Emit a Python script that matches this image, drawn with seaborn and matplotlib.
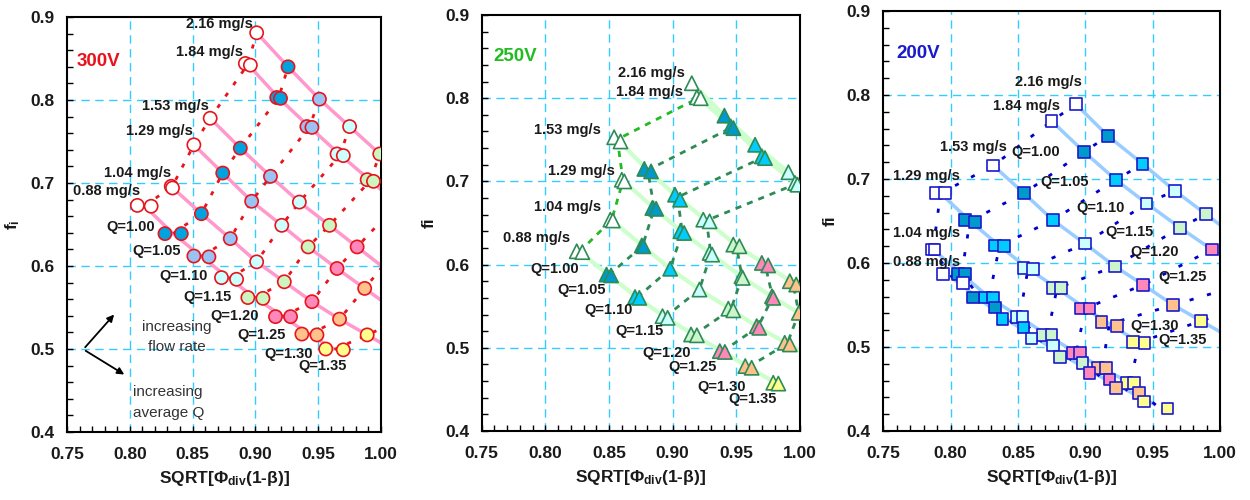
import matplotlib
matplotlib.use('Agg')
import matplotlib.pyplot as plt
import pandas as pd
import seaborn as sns

# ---------------- data ----------------
FLOWS = [0.88, 1.04, 1.29, 1.53, 1.84, 2.16]
Q_LEVELS = ['open', '1.00', '1.05', '1.10', '1.15', '1.20', '1.25', '1.30']
Q_LABELS = ['Q=1.00', 'Q=1.05', 'Q=1.10', 'Q=1.15', 'Q=1.20', 'Q=1.25', 'Q=1.30', 'Q=1.35']

# 300 V panel (circles)
v300_flow = [2.16, 2.16, 2.16, 2.16, 2.16,
             1.84, 1.84, 1.84, 1.84, 1.84, 1.84, 1.84, 1.84, 1.84, 1.84,
             1.53, 1.53, 1.53, 1.53, 1.53, 1.53,
             1.29, 1.29, 1.29, 1.29, 1.29, 1.29, 1.29,
             1.04, 1.04, 1.04, 1.04, 1.04, 1.04, 1.04, 1.04, 1.04,
             0.88, 0.88, 0.88, 0.88, 0.88, 0.88, 0.88, 0.88, 0.88, 0.88, 0.88, 0.88, 0.88, 0.88, 0.88, 0.88]
v300_q = ['open', '1.00', '1.05', '1.10', '1.15',
          'open', 'open', '1.00', '1.00', '1.05', '1.05', '1.10', '1.10', '1.15', '1.15',
          'open', '1.00', '1.05', '1.10', '1.15', '1.20',
          'open', '1.00', '1.05', '1.10', '1.15', '1.20', '1.25',
          'open', 'open', '1.00', '1.05', '1.10', '1.15', '1.20', '1.25', '1.30',
          'open', 'open', '1.00', '1.00', '1.05', '1.05', '1.10', '1.10', '1.15', '1.15', '1.20', '1.20', '1.25', '1.25', '1.30', '1.30']
v300_x = [0.901, 0.926, 0.951, 0.975, 0.999,
          0.892, 0.896, 0.917, 0.920, 0.941, 0.945, 0.965, 0.970, 0.989, 0.994,
          0.864, 0.888, 0.912, 0.935, 0.959, 0.981,
          0.851, 0.874, 0.897, 0.921, 0.942, 0.965, 0.987,
          0.833, 0.834, 0.857, 0.880, 0.901, 0.923, 0.945, 0.967, 0.989,
          0.806, 0.817, 0.828, 0.841, 0.851, 0.863, 0.873, 0.885, 0.894, 0.906, 0.916, 0.928, 0.937, 0.949, 0.956, 0.970]
v300_y = [0.881, 0.840, 0.801, 0.768, 0.735,
          0.844, 0.842, 0.803, 0.802, 0.768, 0.767, 0.735, 0.733, 0.704, 0.702,
          0.778, 0.742, 0.708, 0.677, 0.649, 0.623,
          0.746, 0.712, 0.678, 0.649, 0.623, 0.597, 0.573,
          0.696, 0.694, 0.663, 0.633, 0.605, 0.581, 0.557, 0.536, 0.517,
          0.673, 0.672, 0.639, 0.639, 0.612, 0.611, 0.586, 0.584, 0.562, 0.561, 0.539, 0.539, 0.518, 0.517, 0.500, 0.499]

# 250 V panel (triangles)
v250_flow = [2.16, 2.16, 2.16, 2.16,
             1.84, 1.84, 1.84, 1.84, 1.84, 1.84, 1.84, 1.84,
             1.53, 1.53, 1.53, 1.53, 1.53, 1.53, 1.53, 1.53, 1.53, 1.53, 1.53, 1.53, 1.53, 1.53,
             1.29, 1.29, 1.29, 1.29, 1.29, 1.29, 1.29, 1.29, 1.29, 1.29, 1.29, 1.29, 1.29,
             1.04, 1.04, 1.04, 1.04, 1.04, 1.04, 1.04, 1.04, 1.04, 1.04, 1.04, 1.04,
             0.88, 0.88, 0.88, 0.88, 0.88, 0.88, 0.88, 0.88, 0.88, 0.88, 0.88, 0.88, 0.88, 0.88, 0.88, 0.88]
v250_q = ['open', '1.00', '1.05', '1.10',
          'open', 'open', '1.00', '1.00', '1.05', '1.05', '1.10', '1.10',
          'open', 'open', '1.00', '1.00', '1.05', '1.05', '1.10', '1.10', '1.15', '1.15', '1.20', '1.20', '1.25', '1.25',
          'open', 'open', '1.00', '1.00', '1.05', '1.05', '1.10', '1.10', '1.15', '1.15', '1.20', '1.20', '1.25',
          'open', 'open', '1.00', '1.00', '1.05', '1.10', '1.15', '1.15', '1.20', '1.20', '1.25', '1.25',
          'open', 'open', '1.00', '1.00', '1.05', '1.05', '1.10', '1.10', '1.15', '1.15', '1.20', '1.20', '1.25', '1.25', '1.30', '1.30']
v250_x = [0.915, 0.9406, 0.9647, 0.9909,
          0.919, 0.922, 0.9456, 0.9477, 0.970, 0.9725, 0.9961, 0.998,
          0.854, 0.859, 0.8777, 0.883, 0.9018, 0.9058, 0.924, 0.929, 0.9476, 0.9524, 0.970, 0.975, 0.992, 0.997,
          0.860, 0.862, 0.884, 0.887, 0.906, 0.909, 0.929, 0.931, 0.954, 0.955, 0.978, 0.979, 0.999,
          0.851, 0.853, 0.8757, 0.877, 0.898, 0.921, 0.9437, 0.9476, 0.966, 0.968, 0.988, 0.992,
          0.8246, 0.829, 0.848, 0.8516, 0.8704, 0.8738, 0.892, 0.896, 0.9144, 0.919, 0.937, 0.941, 0.957, 0.962, 0.979, 0.983]
v250_y = [0.818, 0.779, 0.744, 0.711,
          0.801, 0.800, 0.766, 0.764, 0.730, 0.728, 0.698, 0.696,
          0.753, 0.748, 0.715, 0.712, 0.684, 0.678, 0.654, 0.652, 0.624, 0.622, 0.602, 0.599, 0.580, 0.576,
          0.702, 0.700, 0.668, 0.667, 0.640, 0.638, 0.614, 0.612, 0.586, 0.584, 0.562, 0.560, 0.542,
          0.654, 0.653, 0.623, 0.622, 0.595, 0.570, 0.547, 0.545, 0.526, 0.524, 0.506, 0.504,
          0.616, 0.615, 0.588, 0.587, 0.561, 0.560, 0.538, 0.536, 0.516, 0.515, 0.496, 0.495, 0.478, 0.476, 0.458, 0.457]

# 200 V panel (squares)
v200_flow = [2.16, 2.16, 2.16, 2.16, 2.16,
             1.84, 1.84, 1.84, 1.84, 1.84, 1.84,
             1.53, 1.53, 1.53, 1.53, 1.53, 1.53, 1.53, 1.53,
             1.29, 1.29, 1.29, 1.29, 1.29, 1.29, 1.29, 1.29, 1.29, 1.29, 1.29, 1.29, 1.29, 1.29, 1.29, 1.29,
             1.04, 1.04, 1.04, 1.04, 1.04, 1.04, 1.04, 1.04, 1.04, 1.04, 1.04, 1.04, 1.04, 1.04, 1.04, 1.04,
             0.88, 0.88, 0.88, 0.88, 0.88, 0.88, 0.88, 0.88, 0.88, 0.88, 0.88, 0.88, 0.88, 0.88, 0.88, 0.88]
v200_q = ['open', '1.00', '1.05', '1.10', '1.15',
          'open', '1.00', '1.05', '1.10', '1.15', '1.20',
          'open', '1.00', '1.05', '1.10', '1.15', '1.20', '1.25', '1.30',
          'open', 'open', '1.00', '1.00', '1.05', '1.05', '1.10', '1.10', '1.15', '1.15', '1.20', '1.20', '1.25', '1.25', '1.30', '1.30',
          'open', 'open', '1.00', '1.00', '1.05', '1.05', '1.10', '1.10', '1.15', '1.15', '1.20', '1.20', '1.25', '1.25', '1.30', '1.30',
          'open', 'open', '1.00', '1.00', '1.05', '1.05', '1.10', '1.10', '1.15', '1.15', '1.20', '1.20', '1.25', '1.25', '1.30', '1.30']
v200_x = [0.893, 0.917, 0.9426, 0.9665, 0.9896,
          0.875, 0.899, 0.9227, 0.9455, 0.9703, 0.994,
          0.8317, 0.8545, 0.876, 0.8997, 0.922, 0.943, 0.9653, 0.986,
          0.789, 0.796, 0.8107, 0.818, 0.833, 0.8396, 0.854, 0.861, 0.876, 0.882, 0.897, 0.903, 0.912, 0.9237, 0.9356, 0.944,
          0.786, 0.788, 0.8057, 0.8107, 0.8255, 0.8317, 0.849, 0.8535, 0.8688, 0.875, 0.8906, 0.896, 0.9096, 0.9153, 0.9307, 0.936,
          0.7945, 0.809, 0.8168, 0.8329, 0.8386, 0.854, 0.860, 0.8758, 0.8812, 0.898, 0.903, 0.918, 0.9227, 0.940, 0.9435, 0.961]
v200_y = [0.789, 0.751, 0.718, 0.686, 0.658,
          0.769, 0.7325, 0.699, 0.671, 0.642, 0.616,
          0.716, 0.683, 0.651, 0.623, 0.596, 0.574, 0.550, 0.531,
          0.683, 0.683, 0.651, 0.649, 0.621, 0.620, 0.594, 0.5925, 0.570, 0.570, 0.546, 0.546, 0.530, 0.525, 0.506, 0.505,
          0.616, 0.616, 0.587, 0.587, 0.559, 0.559, 0.536, 0.536, 0.514, 0.514, 0.493, 0.493, 0.475, 0.475, 0.457, 0.457,
          0.587, 0.576, 0.559, 0.547, 0.533, 0.523, 0.510, 0.502, 0.488, 0.481, 0.469, 0.4615, 0.451, 0.445, 0.435, 0.427]

# ---------------- style ----------------
sns.set_theme(style='white')
plt.rcParams['font.family'] = ['Liberation Sans', 'DejaVu Sans']
plt.rcParams['mathtext.fontset'] = 'custom'
plt.rcParams['mathtext.rm'] = 'Liberation Sans'
plt.rcParams['mathtext.bf'] = 'Liberation Sans:bold'
plt.rcParams['mathtext.it'] = 'Liberation Sans:italic'
plt.rcParams['mathtext.default'] = 'bf'

fig = plt.figure(figsize=(12.5, 5), dpi=100)
fig.patch.set_facecolor('white')

GRID = '#33ccff'
TXT = '#1a1a1a'


def build(flow, q, x, y):
    return pd.DataFrame({'flow': flow, 'q': q, 'x': x, 'y': y})


def extend(xs, ys):
    dx, dy = xs[-1] - xs[-2], ys[-1] - ys[-2]
    if dx <= 0:
        return xs, ys
    t = (1.06 - xs[-1]) / dx
    return xs + [1.06], ys + [ys[-1] + t * dy]


def draw_panel(ax, df, marker, size, edge, palette, flow_color, flow_lw,
               qcolor, open_qcolor, dashes, qlw, no_extend):
    order = {q: i for i, q in enumerate(Q_LEVELS)}
    means = df.groupby(['flow', 'q'], sort=False)[['x', 'y']].mean().reset_index()
    means['qi'] = means['q'].map(order)
    # constant flow-rate lines
    for f, g in means.groupby('flow'):
        g = g.sort_values('qi')
        xs, ys = list(g['x']), list(g['y'])
        if len(xs) >= 2 and f not in no_extend:
            xs, ys = extend(xs, ys)
        ax.plot(xs, ys, color=flow_color, lw=flow_lw, zorder=1,
                solid_capstyle='butt')
    # constant Q lines
    top = max(FLOWS)
    for q, g in means.groupby('q'):
        g = g.sort_values('flow')
        xs, ys = list(g['x']), list(g['y'])
        if len(xs) < 2:
            continue
        if g['flow'].max() < top:
            xs, ys = extend(xs, ys)
        c = open_qcolor if q == 'open' else qcolor
        ax.plot(xs, ys, color=c, lw=qlw, dashes=dashes, zorder=2)
    sns.scatterplot(data=df, x='x', y='y', hue='q', hue_order=Q_LEVELS,
                    palette=palette, marker=marker, s=size, edgecolor=edge,
                    linewidth=1.2, legend=False, ax=ax, zorder=3)


def style_axes(ax, ylabel):
    ax.set_xlim(0.75, 1.00)
    ax.set_ylim(0.4, 0.9)
    ax.set_xticks([0.75, 0.80, 0.85, 0.90, 0.95, 1.00])
    ax.set_xticklabels(['0.75', '0.80', '0.85', '0.90', '0.95', '1.00'])
    ax.set_yticks([0.4, 0.5, 0.6, 0.7, 0.8, 0.9])
    ax.set_yticklabels(['0.4', '0.5', '0.6', '0.7', '0.8', '0.9'])
    ax.set_xticks([0.75 + 0.01 * i for i in range(26)], minor=True)
    ax.set_yticks([0.4 + 0.02 * i for i in range(26)], minor=True)
    ax.tick_params(which='both', direction='in', length=4, width=1,
                   color='black', bottom=True, left=True, top=False, right=False)
    ax.tick_params(axis='x', which='major', labelsize=12.5, pad=11)
    ax.tick_params(axis='y', which='major', labelsize=12.5, pad=9)
    for lab in ax.get_xticklabels() + ax.get_yticklabels():
        lab.set_fontweight('bold')
        lab.set_color(TXT)
    for v in [0.80, 0.85, 0.90, 0.95]:
        ax.axvline(v, color=GRID, lw=1, dashes=(6, 4), zorder=0)
    for v in [0.5, 0.6, 0.7, 0.8]:
        ax.axhline(v, color=GRID, lw=1, dashes=(6, 4), zorder=0)
    for s in ax.spines.values():
        s.set_color('black')
        s.set_linewidth(1.5)
    ax.set_xlabel(r'SQRT[$\Phi_{\mathbf{div}}$(1-β)]', fontsize=12.5,
                  fontweight='bold', labelpad=5, color=TXT)
    ax.set_ylabel(ylabel, fontsize=12.5, fontweight='bold', labelpad=6, color=TXT)
    ax.set_facecolor('white')


def texts(ax, flow_pos, q_pos, fs=10.5):
    for f, (x, y) in zip(FLOWS, flow_pos):
        ax.text(x, y, f'{f:.2f} mg/s', ha='right', va='center', fontsize=fs,
                fontweight='bold', color=TXT, zorder=5)
    for lab, (x, y) in zip(Q_LABELS, q_pos):
        ax.text(x, y, lab, ha='right', va='center', fontsize=fs,
                fontweight='bold', color=TXT, zorder=5)


# ---- panel 1 ----
ax1 = fig.add_axes([0.0536, 0.136, 0.2512, 0.830])
pal1 = {'open': 'white', '1.00': '#00a2e0', '1.05': '#99c2f5', '1.10': '#ccffff',
        '1.15': '#ccf5c0', '1.20': '#ff88bb', '1.25': '#ffc28c', '1.30': '#ffff8c'}
draw_panel(ax1, build(v300_flow, v300_q, v300_x, v300_y), 'o', 90, '#e8141c', pal1,
           '#ff99cc', 2.5, '#e8141c', '#e8141c', (1.5, 3.5), 2.0, [0.88])
style_axes(ax1, r'f$_{\mathbf{i}}$')
texts(ax1,
      [(0.808, 0.690), (0.833, 0.7124), (0.850, 0.763), (0.863, 0.793), (0.890, 0.858), (0.898, 0.8916)],
      [(0.820, 0.647), (0.8405, 0.618), (0.8617, 0.588), (0.881, 0.5623), (0.903, 0.540),
       (0.924, 0.517), (0.9456, 0.494), (0.9727, 0.479)])
ax1.text(0.7577, 0.846, '300V', color='#e8141c', fontsize=13.5, fontweight='bold',
         ha='left', va='center')
ax1.annotate('', xy=(0.789, 0.544), xytext=(0.763, 0.4996),
             arrowprops=dict(arrowstyle='-|>', color='black', lw=1.3, mutation_scale=10))
ax1.annotate('', xy=(0.7975, 0.4675), xytext=(0.763, 0.4996),
             arrowprops=dict(arrowstyle='-|>', color='black', lw=1.3, mutation_scale=10))
ax1.text(0.8373, 0.5265, 'increasing', ha='center', va='center', fontsize=11, color='#333333')
ax1.text(0.8373, 0.502, 'flow rate', ha='center', va='center', fontsize=11, color='#333333')
ax1.text(0.8023, 0.4478, 'increasing', ha='left', va='center', fontsize=11, color='#333333')
ax1.text(0.8023, 0.4233, 'average Q', ha='left', va='center', fontsize=11, color='#333333')

# ---- panel 2 ----
ax2 = fig.add_axes([0.3854, 0.138, 0.2546, 0.832])
pal2 = {'open': 'white', '1.00': '#0099cc', '1.05': '#00ccff', '1.10': '#ccffff',
        '1.15': '#ccf5cc', '1.20': '#ff88bb', '1.25': '#ffc28c', '1.30': '#ffff8c'}
draw_panel(ax2, build(v250_flow, v250_q, v250_x, v250_y), '^', 105, '#2e8b57', pal2,
           '#ccffcc', 3.0, '#2e8b57', '#22bb22', (2.2, 2.2), 2.0, [0.88])
style_axes(ax2, 'fi')
texts(ax2,
      [(0.8194, 0.632), (0.8437, 0.669), (0.8547, 0.713), (0.8437, 0.762), (0.908, 0.808), (0.9097, 0.8307)],
      [(0.8267, 0.5947), (0.8477, 0.569), (0.869, 0.545), (0.8927, 0.520), (0.9144, 0.494),
       (0.9346, 0.477), (0.9576, 0.453), (0.9817, 0.4386)])
ax2.text(0.759, 0.85, '250V', color='#22bb22', fontsize=13.5, fontweight='bold',
         ha='left', va='center')

# ---- panel 3 ----
ax3 = fig.add_axes([0.7066, 0.138, 0.2694, 0.840])
pal3 = {'open': 'white', '1.00': '#0099cc', '1.05': '#00ccff', '1.10': '#ccffff',
        '1.15': '#ccf5cc', '1.20': '#ff88bb', '1.25': '#ffc28c', '1.30': '#ffff8c'}
draw_panel(ax3, build(v200_flow, v200_q, v200_x, v200_y), 's', 70, '#1a1acc', pal3,
           '#99ccff', 2.5, '#0000cc', '#0000cc', (1.5, 5), 2.0, [0.88, 1.04, 1.29])
style_axes(ax3, 'fi')
texts(ax3,
      [(0.807, 0.6016), (0.807, 0.6354), (0.807, 0.704), (0.842, 0.7385), (0.8812, 0.787), (0.8977, 0.8158)],
      [(0.8812, 0.7325), (0.903, 0.6968), (0.9294, 0.665), (0.9504, 0.6373), (0.9698, 0.6135),
       (0.9905, 0.5837), (0.9698, 0.525), (0.9905, 0.5083)])
ax3.text(0.76, 0.8496, '200V', color='#1a1acc', fontsize=13.5, fontweight='bold',
         ha='left', va='center')

fig.savefig('out.png', dpi=100, facecolor='white')
